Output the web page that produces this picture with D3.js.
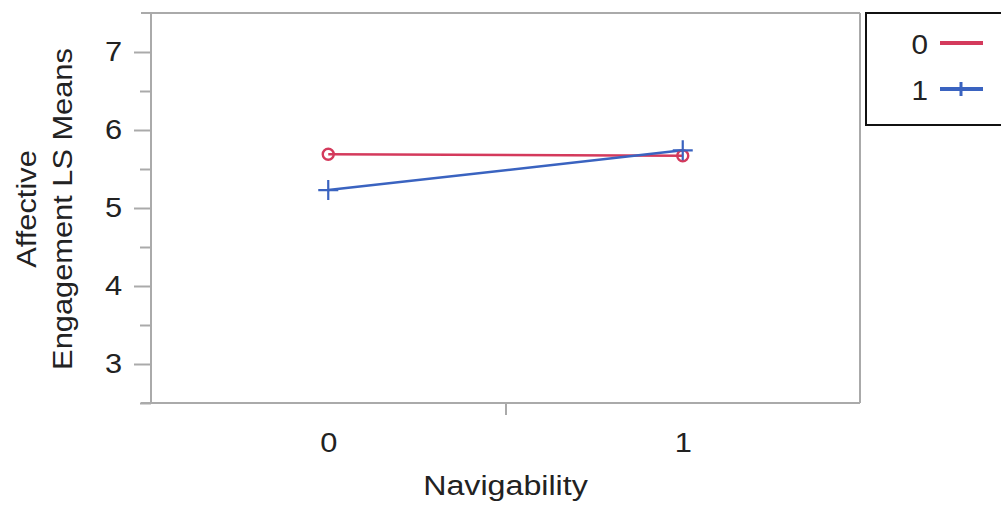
<!DOCTYPE html>
<html><head><meta charset="utf-8">
<script src="https://cdn.jsdelivr.net/npm/d3@7"></script>
<style>body{margin:0;background:#fff}svg{display:block}text{font-family:"Liberation Sans",Arial,sans-serif;fill:#222}</style>
</head><body><svg id="c" width="1001" height="506"></svg>
<script>
const categories = [0, 1];
const seriesNames = ["0", "1"];
const series0 = [5.69, 5.67];
const series1 = [5.23, 5.74];
const yTicks = [3, 4, 5, 6, 7];
const yMinorTicks = [2.5, 3.5, 4.5, 5.5, 6.5];
const colors = ["#d43a5c", "#3a63c0"];

const svg = d3.select("#c");
const L = 151, R = 860, T = 13, B = 403;
const x = d3.scaleLinear().domain([-0.5, 1.5]).range([L, R]);
const y = d3.scaleLinear().domain([2.5, 7.5]).range([B, T]);
const gray = "#aaa";
const SX = 1.1;

// frame
svg.append("line").attr("x1", 141).attr("x2", R).attr("y1", T).attr("y2", T).attr("stroke", gray).attr("stroke-width", 2);
svg.append("line").attr("x1", 141).attr("x2", R).attr("y1", B).attr("y2", B).attr("stroke", gray).attr("stroke-width", 2);
svg.append("line").attr("x1", L).attr("x2", L).attr("y1", T).attr("y2", B).attr("stroke", gray).attr("stroke-width", 2);
svg.append("line").attr("x1", R).attr("x2", R).attr("y1", T).attr("y2", B).attr("stroke", gray).attr("stroke-width", 2);

// y axis
const yAx = svg.append("g").attr("transform", `translate(${L},0)`)
  .call(d3.axisLeft(y).tickValues(yTicks).tickSize(17).tickPadding(12).tickFormat(d3.format("d")));
yAx.select(".domain").remove();
yAx.selectAll(".tick line").attr("stroke", gray).attr("stroke-width", 2);
yAx.selectAll(".tick text").attr("font-size", 28).style("fill", "#222")
  .attr("x", -29 / SX).attr("transform", `scale(${SX},1)`);
svg.append("g").attr("transform", `translate(${L},0)`)
  .call(d3.axisLeft(y).tickValues(yMinorTicks).tickSize(11).tickFormat(""))
  .call(g => { g.select(".domain").remove(); g.selectAll(".tick line").attr("stroke", gray).attr("stroke-width", 2); });

// x axis
const xAx = svg.append("g").attr("transform", `translate(0,${B})`)
  .call(d3.axisBottom(x).tickValues(categories).tickSize(0).tickPadding(30).tickFormat(d3.format("d")));
xAx.select(".domain").remove();
xAx.selectAll(".tick text").attr("font-size", 28).style("fill", "#222")
  .attr("dy", 0).attr("y", 49).attr("transform", `scale(${SX},1)`);
svg.append("g").attr("transform", `translate(0,${B})`)
  .call(d3.axisBottom(x).tickValues([0.5]).tickSize(12).tickFormat(""))
  .call(g => { g.select(".domain").remove(); g.selectAll(".tick line").attr("stroke", gray).attr("stroke-width", 2); });

// axis titles
svg.append("text").attr("transform", `translate(${(L + R) / 2},495) scale(1.15,1)`)
  .attr("text-anchor", "middle").attr("font-size", 28).text("Navigability");
const yl = svg.append("text").attr("transform", `translate(0,209) rotate(-90) scale(1.1,1)`)
  .attr("text-anchor", "middle").attr("font-size", 28);
yl.append("tspan").attr("x", 0).attr("y", 36).text("Affective");
yl.append("tspan").attr("x", 0).attr("y", 72).text("Engagement LS Means");

// lines
const line = d3.line().x((d, i) => x(categories[i])).y(d => y(d));
[series0, series1].forEach((s, k) => {
  svg.append("path").datum(s).attr("d", line).attr("fill", "none").attr("stroke", colors[k]).attr("stroke-width", 2.5);
});
// markers series0: circles
svg.selectAll(".m0").data(series0).enter().append("circle")
  .attr("cx", (d, i) => x(categories[i])).attr("cy", d => y(d)).attr("r", 5.5)
  .attr("fill", "none").attr("stroke", colors[0]).attr("stroke-width", 2.4);
// markers series1: plus
series1.forEach((d, i) => {
  const cx = x(categories[i]), cy = y(d), s = 10;
  svg.append("path").attr("d", `M${cx - s},${cy}H${cx + s}M${cx},${cy - s}V${cy + s}`)
    .attr("stroke", colors[1]).attr("stroke-width", 2.2).attr("fill", "none");
});

// legend
svg.append("rect").attr("x", 866).attr("y", 13).attr("width", 150).attr("height", 112)
  .attr("fill", "#fff").attr("stroke", "#111").attr("stroke-width", 2);
seriesNames.forEach((n, k) => {
  const ly = 43 + k * 46;
  svg.append("text").attr("transform", `translate(928,${ly + 11}) scale(${SX},1)`)
    .attr("text-anchor", "end").attr("font-size", 27).text(n);
  svg.append("line").attr("x1", 940).attr("x2", 983).attr("y1", ly).attr("y2", ly).attr("stroke", colors[k]).attr("stroke-width", 4);
  if (k === 1) svg.append("line").attr("x1", 961).attr("x2", 961).attr("y1", ly - 7).attr("y2", ly + 7).attr("stroke", colors[k]).attr("stroke-width", 3);
});
</script></body></html>
